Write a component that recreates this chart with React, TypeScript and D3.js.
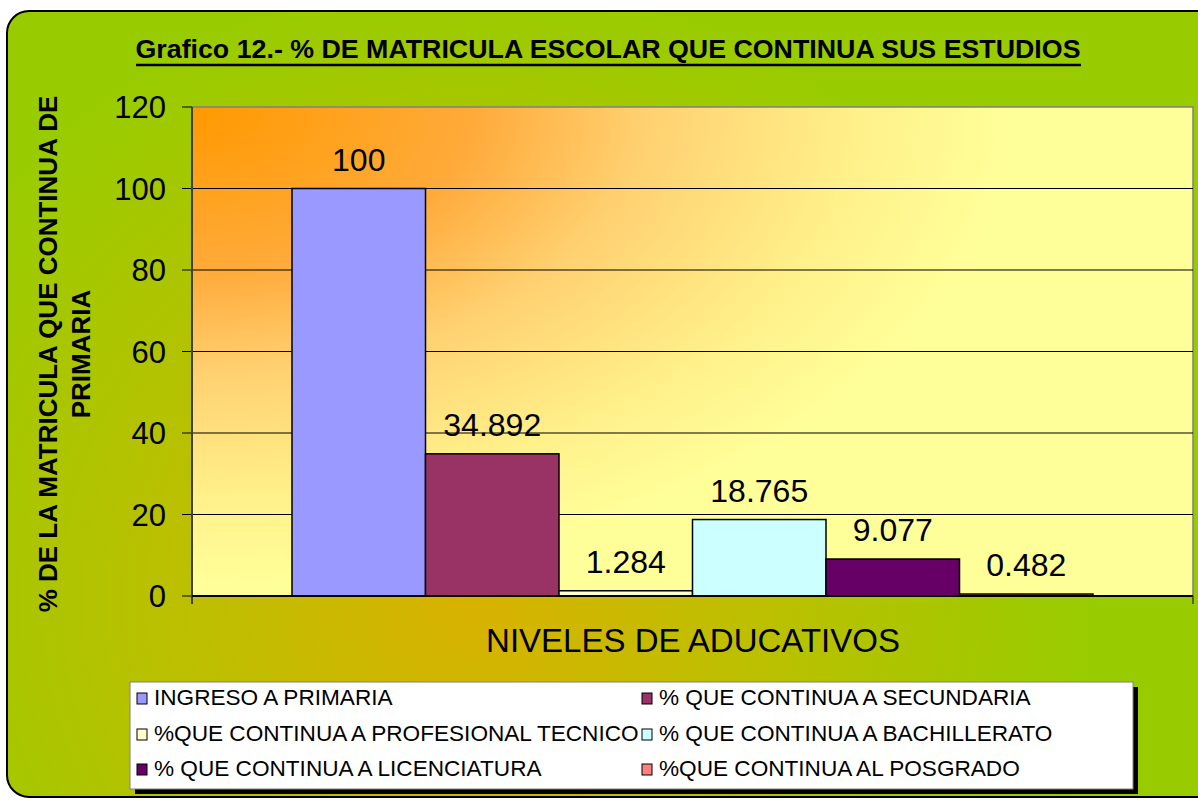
import React from "react";
import * as d3 from "d3";

const series = [
  "INGRESO A PRIMARIA",
  "% QUE CONTINUA A SECUNDARIA",
  "%QUE CONTINUA A PROFESIONAL TECNICO",
  "% QUE CONTINUA A BACHILLERATO",
  "% QUE CONTINUA A LICENCIATURA",
  "%QUE CONTINUA AL POSGRADO",
];
const values = [100, 34.892, 1.284, 18.765, 9.077, 0.482];
const labels = ["100", "34.892", "1.284", "18.765", "9.077", "0.482"];
const colors = ["#9999FF", "#993366", "#FFFFCC", "#CCFFFF", "#660066", "#FF8080"];
const yTicks = [0, 20, 40, 60, 80, 100, 120];

const font = "Arial, 'Liberation Sans', sans-serif";

const App = () => {
  // plot area
  const left = 192;
  const right = 1193;
  const top = 107;
  const bottom = 596;

  const y = d3.scaleLinear().domain([0, 120]).range([bottom, top]);
  // one category; gap width 150% -> 100px padding each side
  const x = d3
    .scaleBand<string>()
    .domain(series)
    .range([left + 100, right - 100]);

  // legend layout
  const legX = 130;
  const legY = 682;
  const legW = 1003;
  const legH = 107;
  const colX = [137, 642];
  const rowY = [697, 733, 768];

  return (
    <svg
      width={1198}
      height={800}
      style={{ position: "absolute", left: 0, top: 0 }}
    >
      <defs>
        <radialGradient
          id="bg"
          gradientUnits="userSpaceOnUse"
          cx={470}
          cy={600}
          r={620}
        >
          <stop offset="0" stopColor="#D9B200" />
          <stop offset="0.45" stopColor="#BDBF00" />
          <stop offset="1" stopColor="#99CC00" />
        </radialGradient>
        <radialGradient
          id="plotbg"
          cx="0"
          cy="0"
          r="1"
          fx="0"
          fy="0"
          gradientTransform="scale(1,1.2)"
        >
          <stop offset="0" stopColor="#FF9900" />
          <stop offset="0.28" stopColor="#FFAA3A" />
          <stop offset="0.45" stopColor="#FFD070" />
          <stop offset="0.66" stopColor="#FFF08A" />
          <stop offset="0.82" stopColor="#FFFF99" />
        </radialGradient>
      </defs>
      <rect x={0} y={0} width={1198} height={800} fill="#fff" />
      {/* outer frame */}
      <rect
        x={7}
        y={11}
        width={1220}
        height={786}
        rx={22}
        fill="url(#bg)"
        stroke="#000"
        strokeWidth={2}
      />

      {/* title */}
      <text
        x={608}
        y={58}
        textAnchor="middle"
        fontFamily={font}
        fontWeight="bold"
        fontSize={26}
        textLength={945}
        lengthAdjust="spacingAndGlyphs"
      >
        Grafico 12.- % DE MATRICULA ESCOLAR QUE CONTINUA SUS ESTUDIOS
      </text>
      <line x1={136} x2={1081} y1={65} y2={65} stroke="#000" strokeWidth={2.5} />

      {/* plot area */}
      <rect
        x={left}
        y={top}
        width={right - left}
        height={bottom - top}
        fill="url(#plotbg)"
        stroke="#808080"
        strokeWidth={1.5}
      />

      {/* gridlines */}
      {yTicks.map((t) => (
        <g key={t}>
          {t > 0 && t < 120 && (
            <line
              x1={left}
              x2={right}
              y1={y(t)}
              y2={y(t)}
              stroke="#000"
              strokeWidth={1}
            />
          )}
          <line x1={182} x2={left} y1={y(t)} y2={y(t)} stroke="#000" strokeWidth={1} />
          <text
            x={166}
            y={y(t) + 11}
            textAnchor="end"
            fontFamily={font}
            fontSize={31}
          >
            {t}
          </text>
        </g>
      ))}

      {/* bars */}
      {series.map((s, i) => (
        <rect
          key={s}
          x={x(s)}
          y={y(values[i])}
          width={x.bandwidth()}
          height={bottom - y(values[i])}
          fill={colors[i]}
          stroke="#000"
          strokeWidth={1.5}
        />
      ))}

      {/* value labels */}
      {series.map((s, i) => (
        <text
          key={s}
          x={(x(s) as number) + x.bandwidth() / 2}
          y={y(values[i]) - 18}
          textAnchor="middle"
          fontFamily={font}
          fontSize={32}
        >
          {labels[i]}
        </text>
      ))}

      {/* axes */}
      <line x1={left} x2={left} y1={top} y2={bottom + 8} stroke="#404040" strokeWidth={2} />
      <line x1={left} x2={right} y1={bottom} y2={bottom} stroke="#000" strokeWidth={2} />
      <line x1={right} x2={right} y1={bottom} y2={bottom + 8} stroke="#404040" strokeWidth={1.5} />

      {/* axis titles */}
      <text
        transform={`translate(57,${354}) rotate(-90)`}
        textAnchor="middle"
        fontFamily={font}
        fontWeight="bold"
        fontSize={26}
      >
        % DE LA MATRICULA QUE CONTINUA DE
      </text>
      <text
        transform={`translate(90,${354}) rotate(-90)`}
        textAnchor="middle"
        fontFamily={font}
        fontWeight="bold"
        fontSize={26}
      >
        PRIMARIA
      </text>
      <text
        x={693}
        y={652}
        textAnchor="middle"
        fontFamily={font}
        fontSize={33}
      >
        NIVELES DE ADUCATIVOS
      </text>

      {/* legend */}
      <rect x={legX + 5} y={legY + 5} width={legW} height={legH} fill="#000" />
      <rect
        x={legX}
        y={legY}
        width={legW}
        height={legH}
        fill="#fff"
        stroke="#808080"
        strokeWidth={1}
      />
      {series.map((s, i) => {
        const cx = colX[i % 2];
        const cy = rowY[Math.floor(i / 2)];
        return (
          <g key={s}>
            <rect
              x={cx}
              y={cy - 4}
              width={10}
              height={11}
              fill={colors[i]}
              stroke="#000"
              strokeWidth={1}
            />
            <text
              x={cx + 17}
              y={cy + 8}
              fontFamily={font}
              fontSize={22.6}
            >
              {s}
            </text>
          </g>
        );
      })}
    </svg>
  );
};

export default App;
